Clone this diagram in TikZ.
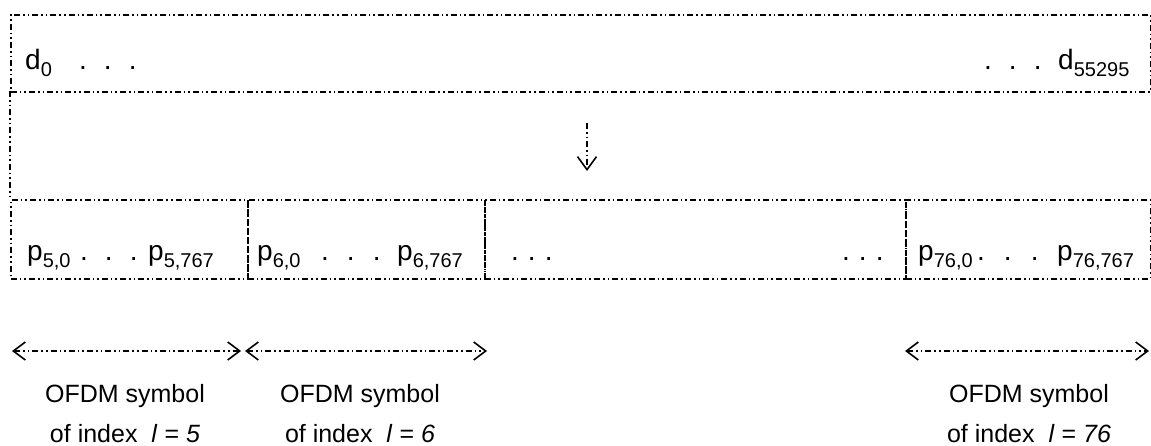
\documentclass[tikz,border=0pt]{standalone}
\usepackage{fontspec}
\setmainfont{Liberation Sans}
\usetikzlibrary{arrows.meta}
\newcommand\sbx[1]{\raisebox{-7pt}{\fontsize{20}{20}\selectfont #1}}
\newcommand\tdots[1]{.\hspace{#1}.\hspace{#1}.}
\tikzset{
  dd/.style={line width=1.6pt, dash pattern=on 6pt off 3pt on 1.6pt off 3pt on 1.6pt off 3pt},
  frame/.style={dd, draw, inner sep=0pt},
  lab/.style={anchor=base west, inner sep=0pt, font=\fontsize{28}{28}\selectfont},
  captext/.style={align=center, inner sep=0pt, font=\fontsize{25}{40}\selectfont},
  spanarrow/.style={dd,
     arrows={Straight Barb[length=12pt,width=18pt,line width=1.6pt]-Straight Barb[length=12pt,width=18pt,line width=1.6pt]}},
  downarrow/.style={dd,
     arrows={-Straight Barb[length=13pt,width=19pt,line width=1.6pt]}}
}
\begin{document}
\begin{tikzpicture}[x=1pt,y=-1pt]
\useasboundingbox (0,0) rectangle (1151,446);
% top box
\node[frame, minimum width=1140pt, minimum height=77pt, anchor=north west] (top) at (10,14) {};
\node[lab] (d0) at (25,70) {d\sbx{0}};
\node[lab] (td1) at (79,70) {\tdots{17pt}};
\node[lab] (td2) at (984,70) {\tdots{17pt}};
\node[lab] (dN) at (1058,70) {d\sbx{55295}};
% left connector
\coordinate (lc1) at (10,91);
\coordinate (lc2) at (10,199);
\draw[dd] (lc1) -- (lc2);
% arrow
\coordinate (a1) at (587,123);
\coordinate (a2) at (587,171);
\draw[downarrow] (a1) -- (a2);
% bottom row
\node[frame, minimum width=237pt, minimum height=79pt, anchor=north west] (b1) at (10,199) {};
\node[frame, minimum width=237pt, minimum height=79pt, anchor=north west] (b2) at (247,199) {};
\node[frame, minimum width=421pt, minimum height=79pt, anchor=north west] (b3) at (484,199) {};
\node[frame, minimum width=245pt, minimum height=79pt, anchor=north west] (b4) at (905,199) {};
\node[lab] (p50) at (27,261) {p\sbx{5,0}};
\node[lab] (bd1) at (80,261) {\tdots{17pt}};
\node[lab] (p57) at (148,261) {p\sbx{5,767}};
\node[lab] (p60) at (257,261) {p\sbx{6,0}};
\node[lab] (bd2) at (321,261) {\tdots{18pt}};
\node[lab] (p67) at (397,261) {p\sbx{6,767}};
\node[lab] (bd3) at (511,261) {\tdots{9pt}};
\node[lab] (bd4) at (842,261) {\tdots{9pt}};
\node[lab] (p760) at (918,261) {p\sbx{76,0}};
\node[lab] (bd5) at (977,261) {\tdots{19pt}};
\node[lab] (p767) at (1057,261) {p\sbx{76,767}};
% span arrows
\coordinate (s1a) at (12,351); \coordinate (s1b) at (241,351);
\coordinate (s2a) at (245,351); \coordinate (s2b) at (487,351);
\coordinate (s3a) at (905,351); \coordinate (s3b) at (1149,351);
\draw[spanarrow] (s1a) -- (s1b);
\draw[spanarrow] (s2a) -- (s2b);
\draw[spanarrow] (s3a) -- (s3b);
% captions
\node[captext] (c1) at (125,414) {OFDM symbol\\of index\ \ \textit{l} = \textit{5}};
\node[captext] (c2) at (360,414) {OFDM symbol\\of index\ \ \textit{l} = \textit{6}};
\node[captext] (c3) at (1029,414) {OFDM symbol\\of index\ \ \textit{l} = \textit{76}};
\end{tikzpicture}
\end{document}
